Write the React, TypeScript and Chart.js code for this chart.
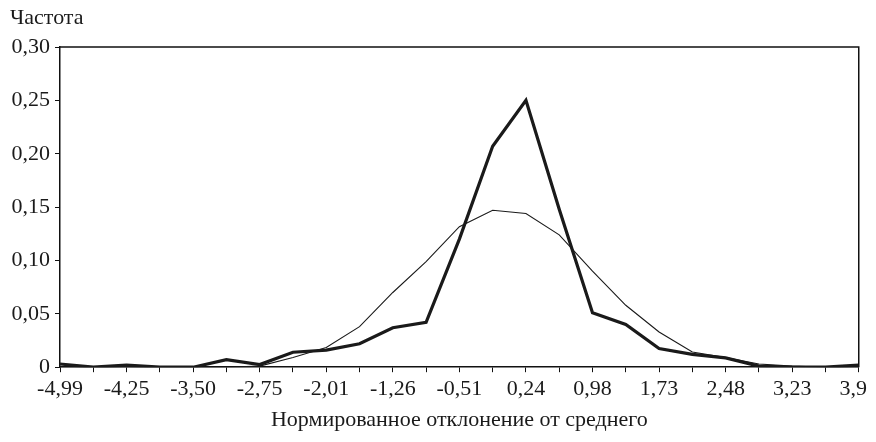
import React, { useEffect, useRef } from "react";
import { Chart, registerables } from "chart.js";

Chart.register(...registerables);

const categories: string[] = [
  "-4,99", "-4,62", "-4,25", "-3,87", "-3,50", "-3,13", "-2,75", "-2,38", "-2,01",
  "-1,63", "-1,26", "-0,89", "-0,51", "-0,14", "0,24", "0,61", "0,98", "1,36",
  "1,73", "2,11", "2,48", "2,85", "3,23", "3,60", "3,97",
];

const observed: number[] = [
  0.003, 0.0, 0.002, 0.0, 0.0, 0.007, 0.0025, 0.014, 0.016, 0.022, 0.037, 0.042,
  0.12, 0.207, 0.25, 0.148, 0.051, 0.04, 0.0175, 0.012, 0.0087, 0.001, 0.0, 0.0, 0.002,
];

const normal: number[] = [
  0.0, 0.0, 0.0, 0.0, 0.0, 0.0, 0.001, 0.009, 0.0185, 0.038, 0.07, 0.099,
  0.1316, 0.147, 0.144, 0.124, 0.09, 0.058, 0.033, 0.0143, 0.009, 0.003, 0.001, 0.0, 0.0,
];

const yTicks: number[] = [0, 0.05, 0.1, 0.15, 0.2, 0.25, 0.3];

const yTitle = "Частота";
const xTitle = "Нормированное отклонение от среднего";

const FONT = "'Liberation Serif', 'DejaVu Serif', serif";
const FS = 22;

const boxPlugin = {
  id: "boxPlugin",
  afterDraw(chart: any) {
    const { ctx, chartArea } = chart;
    ctx.save();
    ctx.strokeStyle = "#111";
    ctx.lineWidth = 1.5;
    ctx.beginPath();
    ctx.moveTo(chartArea.left, chartArea.top);
    ctx.lineTo(chartArea.right, chartArea.top);
    ctx.lineTo(chartArea.right, chartArea.bottom);
    ctx.stroke();
    ctx.fillStyle = "#1a1a1a";
    ctx.font = `${FS}px ${FONT}`;
    ctx.textAlign = "left";
    ctx.textBaseline = "alphabetic";
    ctx.fillText(yTitle, 2, 16);
    ctx.restore();
  },
};

export default function App() {
  const ref = useRef<HTMLCanvasElement | null>(null);
  useEffect(() => {
    if (!ref.current) return;
    const chart = new Chart(ref.current, {
      type: "line",
      data: {
        labels: categories,
        datasets: [
          {
            label: "Эмпирическое",
            data: observed,
            borderColor: "#1a1a1a",
            borderWidth: 3.2,
            pointRadius: 0,
            tension: 0,
            fill: false,
          },
          {
            label: "Нормальное",
            data: normal,
            borderColor: "#1a1a1a",
            borderWidth: 1.1,
            pointRadius: 0,
            tension: 0,
            fill: false,
          },
        ],
      },
      options: {
        animation: false,
        responsive: true,
        maintainAspectRatio: false,
        layout: { padding: { left: 0, right: 0, top: 39, bottom: 9 } },
        plugins: {
          legend: { display: false },
          tooltip: { enabled: false },
          title: { display: false },
        },
        scales: {
          x: {
            type: "category",
            offset: false,
            grid: {
              drawOnChartArea: false,
              drawTicks: true,
              tickLength: 5,
              color: "#111",
              lineWidth: 1,
            },
            border: { display: true, color: "#111", width: 1.5 },
            ticks: {
              autoSkip: false,
              maxRotation: 0,
              minRotation: 0,
              padding: 4,
              color: "#1a1a1a",
              font: { family: FONT, size: FS },
              callback: (_v: any, i: number) => (i % 2 === 0 ? categories[i] : ""),
            },
            title: {
              display: true,
              text: xTitle,
              color: "#1a1a1a",
              font: { family: FONT, size: FS },
              padding: { top: 0, bottom: 0 },
            },
          },
          y: {
            min: 0,
            max: 0.3,
            afterBuildTicks: (scale: any) => {
              scale.ticks = yTicks.map((v) => ({ value: v }));
            },
            afterFit: (scale: any) => {
              scale.width = 52;
            },
            grid: {
              drawOnChartArea: false,
              drawTicks: true,
              tickLength: 5,
              color: "#111",
            },
            border: { display: true, color: "#111", width: 1.5 },
            ticks: {
              padding: 5,
              color: "#1a1a1a",
              font: { family: FONT, size: FS },
              callback: (v: any) =>
                Number(v) === 0 ? "0" : Number(v).toFixed(2).replace(".", ","),
            },
          },
        },
      },
      plugins: [boxPlugin],
    });
    return () => chart.destroy();
  }, []);
  return (
    <div style={{ width: 868, height: 434, overflow: "hidden" }}>
      <div style={{ position: "relative", width: 874, height: 434 }}>
        <canvas ref={ref} />
      </div>
    </div>
  );
}
